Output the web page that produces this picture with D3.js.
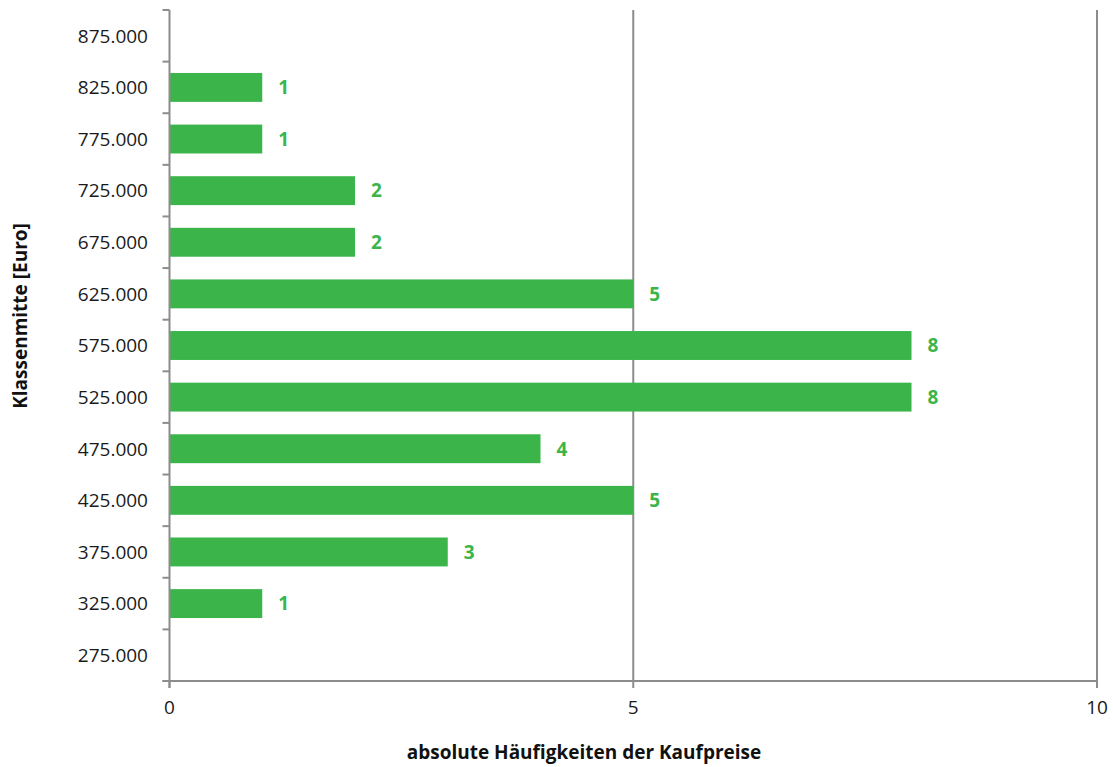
<!DOCTYPE html>
<html><head><meta charset="utf-8">
<script src="https://cdn.jsdelivr.net/npm/d3@7"></script>
<style>body{margin:0;background:#fff;} text{font-family:"Open Sans",sans-serif;}</style>
</head><body>
<svg id="c" width="1113" height="767"></svg>
<script>
const categories = ["275.000","325.000","375.000","425.000","475.000","525.000","575.000","625.000","675.000","725.000","775.000","825.000","875.000"];
const values = [null,1,3,5,4,8,8,5,2,2,1,1,null];
const xTicks = [0,5,10];
const xTitle = "absolute Häufigkeiten der Kaufpreise";
const yTitle = "Klassenmitte [Euro]";

(function(){
const svg = d3.select("#c");
const pl = 169.5, pr = 1097, pt = 10, pb = 681;
const axisColor = "#8c8c8c", green = "#3bb54a";

const x = d3.scaleLinear().domain([0,10]).range([pl,pr]);
const y = d3.scaleBand().domain(categories.slice().reverse()).range([pt,pb]).paddingInner(0.44).paddingOuter(0.22);
const yb = d3.scaleBand().domain(categories.slice().reverse()).range([pt,pb]);

svg.append("g").selectAll("line").data(xTicks.filter(d=>d>0)).join("line")
  .attr("x1",d=>x(d)).attr("x2",d=>x(d)).attr("y1",pt).attr("y2",pb)
  .attr("stroke",axisColor).attr("stroke-width",2);

const data = categories.map((c,i)=>({c,v:values[i]})).filter(d=>d.v!=null);

svg.append("g").selectAll("rect").data(data).join("rect")
  .attr("x",x(0)).attr("y",d=>y(d.c)).attr("width",d=>x(d.v)-x(0)).attr("height",y.bandwidth())
  .attr("fill",green);

svg.append("g").selectAll("text").data(data).join("text")
  .attr("x",d=>x(d.v)+16).attr("y",d=>y(d.c)+y.bandwidth()/2).attr("dy","0.36em")
  .attr("fill",green).attr("font-weight","bold").attr("font-size",19).text(d=>d.v);

const yAxis = svg.append("g");
yAxis.append("line").attr("x1",pl).attr("x2",pl).attr("y1",pt).attr("y2",pb+7)
  .attr("stroke",axisColor).attr("stroke-width",2);
const bounds = yb.domain().map(d=>yb(d)).concat([pb]);
yAxis.selectAll("line.t").data(bounds).join("line").attr("class","t")
  .attr("x1",pl-7).attr("x2",pl).attr("y1",d=>d).attr("y2",d=>d)
  .attr("stroke",axisColor).attr("stroke-width",2);
yAxis.selectAll("text").data(categories).join("text")
  .attr("x",148).attr("y",d=>yb(d)+yb.bandwidth()/2).attr("dy","0.36em")
  .attr("text-anchor","end").attr("font-size",19).attr("fill","#1a1a1a").text(d=>d);

const xAxis = svg.append("g");
xAxis.append("line").attr("x1",pl-7).attr("x2",pr).attr("y1",pb).attr("y2",pb)
  .attr("stroke",axisColor).attr("stroke-width",2);
xAxis.selectAll("line.t").data(xTicks).join("line").attr("class","t")
  .attr("x1",d=>x(d)).attr("x2",d=>x(d)).attr("y1",pb).attr("y2",pb+7)
  .attr("stroke",axisColor).attr("stroke-width",2);
xAxis.selectAll("text").data(xTicks).join("text")
  .attr("x",d=>x(d)).attr("y",707).attr("dy","0.36em")
  .attr("text-anchor","middle").attr("font-size",19).attr("fill","#1a1a1a").text(d=>d);

svg.append("text").attr("x",584).attr("y",752).attr("dy","0.36em").attr("text-anchor","middle")
  .attr("font-size",19).attr("font-weight","bold").attr("fill","#111").text(xTitle);
svg.append("text").attr("transform","translate(20,316) rotate(-90)").attr("dy","0.36em").attr("text-anchor","middle")
  .attr("font-size",19).attr("font-weight","bold").attr("fill","#111").text(yTitle);
})();
</script>
</body></html>
